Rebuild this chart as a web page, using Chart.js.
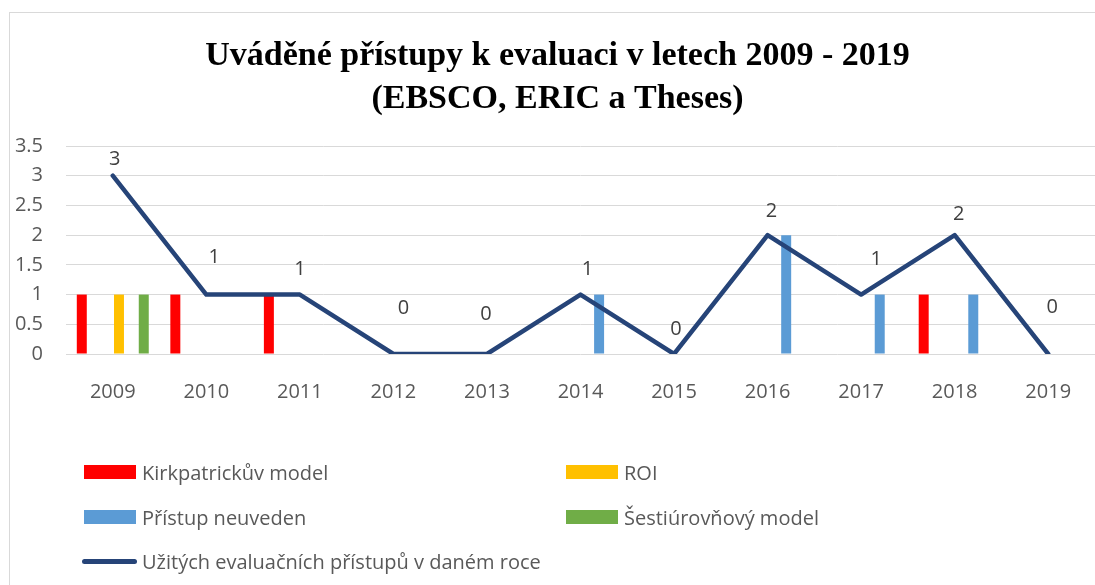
<!DOCTYPE html>
<html>
<head>
<meta charset="utf-8">
<script src="https://cdn.jsdelivr.net/npm/chart.js@4/dist/chart.umd.min.js"></script>
<style>
  body { margin: 0; background: #fff; }
  #wrap { position: relative; width: 1095px; height: 585px; overflow: hidden; font-family: 'Open Sans', sans-serif; }
  #ramecek { position: absolute; left: 9px; top: 12px; width: 1200px; height: 700px;
             border-top: 1px solid #d9d9d9; border-left: 1px solid #d9d9d9; }
  canvas { position: absolute; left: 0; top: 0; }
  .polozka { position: absolute; display: flex; align-items: center; height: 28px;
             font-size: 20px; color: #595959; white-space: nowrap; }
  .znacka { width: 52px; height: 14px; margin-right: 6px; }
  .cara { width: 55px; height: 5px; border-radius: 3px; margin-right: 5px; }
</style>
</head>
<body>
<div id="wrap">
  <div id="ramecek"></div>
  <canvas id="graf" width="1095" height="585"></canvas>
  <div id="legenda"></div>
</div>
<script>
const roky = ['2009', '2010', '2011', '2012', '2013', '2014', '2015', '2016', '2017', '2018', '2019']

const kirkpatrick = [1, 1, 1, 0, 0, 0, 0, 0, 0, 1, 0]
const roi = [1, 0, 0, 0, 0, 0, 0, 0, 0, 0, 0]
const neuveden = [0, 0, 0, 0, 0, 1, 0, 2, 1, 1, 0]
const sestiurovnovy = [1, 0, 0, 0, 0, 0, 0, 0, 0, 0, 0]
const celkem = [3, 1, 1, 0, 0, 1, 0, 2, 1, 2, 0]

// posun popisku od bodu (dx, dy) - jak je v puvodnim grafu
const posunPopisku = [[2, -16], [8, -37], [0, -25], [10, -46], [-1, -40], [7, -25], [2, -25], [4, -24], [15, -35], [4, -21], [4, -47]]

Chart.defaults.font.family = "'Open Sans', sans-serif"
Chart.defaults.font.size = 20
Chart.defaults.color = '#595959'

const popisky = {
  id: 'popisky',
  afterLayout(chart) {
    // nadpis je v originale trochu vpravo
    chart.titleBlock.left = 20
  },
  afterDatasetsDraw(chart) {
    const ctx = chart.ctx
    const meta = chart.getDatasetMeta(6)
    ctx.save()
    ctx.font = "20px 'Open Sans', sans-serif"
    ctx.fillStyle = '#404040'
    ctx.textAlign = 'center'
    ctx.textBaseline = 'middle'
    meta.data.forEach((bod, i) => {
      ctx.fillText(String(celkem[i]), bod.x + posunPopisku[i][0], bod.y + posunPopisku[i][1])
    })
    ctx.restore()
  }
}

const ctx = document.getElementById('graf')
const grafik = new Chart(ctx, {
  type: 'bar',
  data: {
    labels: roky,
    datasets: [
      { label: 'Kirkpatrickův model', data: kirkpatrick, backgroundColor: '#ff0000', order: 1 },
      { label: '', data: [], backgroundColor: 'transparent', order: 1 },
      { label: '', data: [], backgroundColor: 'transparent', order: 1 },
      { label: 'ROI', data: roi, backgroundColor: '#ffc000', order: 1 },
      { label: 'Přístup neuveden', data: neuveden, backgroundColor: '#5b9bd5', order: 1 },
      { label: 'Šestiúrovňový model', data: sestiurovnovy, backgroundColor: '#70ad47', order: 1 },
      { type: 'line', label: 'Užitých evaluačních přístupů v daném roce', data: celkem,
        borderColor: '#264478', backgroundColor: '#264478', borderWidth: 4.5,
        pointRadius: 0, tension: 0, borderJoinStyle: 'round', borderCapStyle: 'round', order: 0 }
    ]
  },
  options: {
    responsive: false,
    animation: false,
    layout: { padding: 0 },
    datasets: {
      bar: { categoryPercentage: 0.795, barPercentage: 0.806 }
    },
    plugins: {
      legend: { display: false },
      tooltip: { enabled: false },
      title: {
        display: true,
        text: ['Uváděné přístupy k evaluaci v letech 2009 - 2019', '(EBSCO, ERIC a Theses)'],
        color: '#000',
        font: { family: "'Liberation Serif', serif", size: 34, weight: 'bold', lineHeight: 43 / 34 },
        padding: { top: 35, bottom: 25 }
      }
    },
    scales: {
      x: {
        grid: { display: false },
        border: { display: false },
        ticks: { padding: 18, color: '#595959' },
        afterFit: (s) => { s.height = 231 }
      },
      y: {
        min: 0,
        max: 3.5,
        ticks: { stepSize: 0.5, padding: 23, color: '#595959', callback: (v) => String(v) },
        grid: { color: '#d9d9d9', lineWidth: 1, drawTicks: false },
        border: { display: false },
        afterFit: (s) => { s.width = 66 }
      }
    }
  },
  plugins: [popisky]
})

// legenda ve dvou sloupcich
const sloupce = [84, 566]
const radky = [472, 517, 561]
const legenda = document.getElementById('legenda')
grafik.data.datasets.filter(d => d.label !== '').forEach((d, i) => {
  const el = document.createElement('div')
  el.className = 'polozka'
  const jeCara = d.type === 'line'
  el.style.left = (sloupce[i % 2] - (jeCara ? 2 : 0)) + 'px'
  el.style.top = (radky[Math.floor(i / 2)] - 14) + 'px'
  const z = document.createElement('span')
  z.className = jeCara ? 'cara' : 'znacka'
  z.style.background = d.backgroundColor
  const t = document.createElement('span')
  t.textContent = d.label
  el.appendChild(z)
  el.appendChild(t)
  legenda.appendChild(el)
})
</script>
</body>
</html>
